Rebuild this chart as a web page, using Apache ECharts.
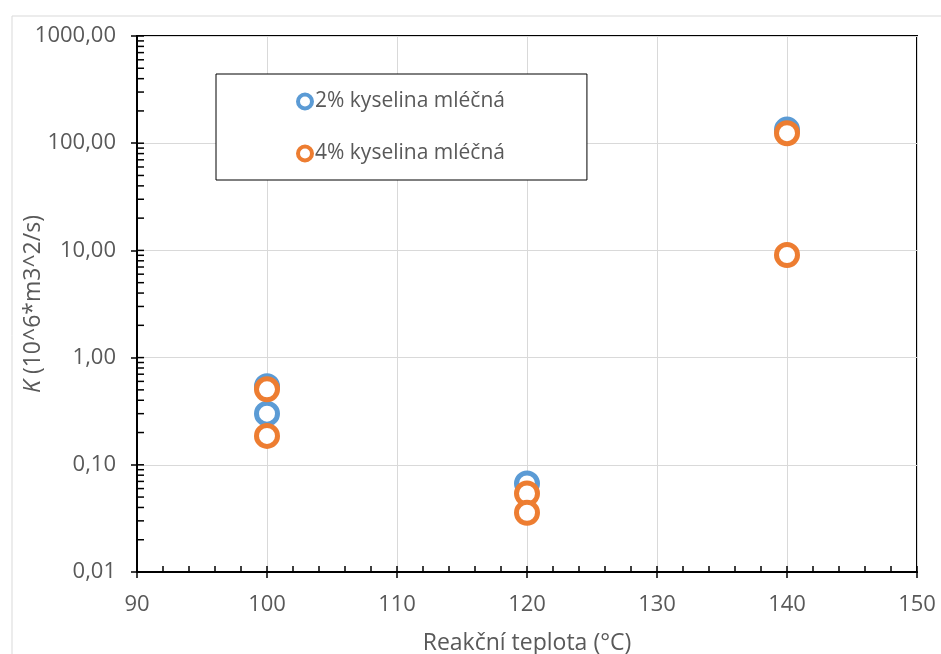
<!DOCTYPE html>
<html><head><meta charset="utf-8">
<script src="https://cdn.jsdelivr.net/npm/echarts@6/dist/echarts.min.js"></script>
<style>html,body{margin:0;padding:0;background:#fff}#c{width:941px;height:654px}</style>
</head><body><div id="c"></div>
<script>
const seriesNames = ['2% kyselina mléčná', '4% kyselina mléčná'];
const temps2 = [100, 100, 120, 140];
const values2 = [0.54, 0.30, 0.067, 134];
const temps4 = [100, 100, 120, 120, 140, 140];
const values4 = [0.506, 0.186, 0.054, 0.0357, 124, 9.06];
const yTickValues = [0.01, 0.1, 1, 10, 100, 1000];
const xTickValues = [90, 100, 110, 120, 130, 140, 150];

const colors = ['#5B9BD5', '#ED7D31'];
const textColor = '#595959';
const font = 'Open Sans';

// inside tick marks for log axis (1..9 per decade)
const logTicks = [];
for (let k = -2; k <= 2; k++) for (let m = 1; m <= 9; m++) logTicks.push([xTickValues[0], m * Math.pow(10, k)]);
logTicks.push([xTickValues[0], 1000]);

const chart = echarts.init(document.getElementById('c'), null, {renderer: 'canvas'});
chart.setOption({
  animation: false,
  backgroundColor: '#fff',
  textStyle: {fontFamily: font},
  graphic: [{type: 'rect', left: 9.5, top: 13.5, silent: true, z: -10,
    shape: {width: 1000, height: 800}, style: {fill: 'none', stroke: '#d9d9d9', lineWidth: 1}}],
  grid: {left: 137, top: 36, width: 780, height: 536, show: true, borderColor: '#000', borderWidth: 2,
    backgroundColor: 'transparent', containLabel: false, outerBoundsMode: 'none'},
  legend: {
    left: 216, top: 74, orient: 'vertical',
    data: seriesNames,
    backgroundColor: '#fff', borderColor: '#000', borderWidth: 1,
    padding: [17, 82, 16, 80],
    itemGap: 31, itemWidth: 14, itemHeight: 14,
    itemStyle: {borderWidth: 4, opacity: 1},
    textStyle: {fontSize: 21, color: textColor, fontFamily: font, padding: [0, 0, 0, -2]}
  },
  xAxis: [{
    type: 'value', min: xTickValues[0], max: xTickValues[xTickValues.length - 1], interval: 10,
    name: 'Reakční teplota (°C)', nameLocation: 'middle', nameGap: 60, nameMoveOverlap: false,
    nameTextStyle: {fontSize: 23, color: textColor, fontFamily: font},
    axisLine: {show: true, lineStyle: {color: '#000', width: 2}},
    axisTick: {show: true, inside: true, length: 6, lineStyle: {color: '#000', width: 1.5}},
    minorTick: {show: true, splitNumber: 5, length: 6, lineStyle: {color: '#000', width: 1.5}},
    axisLabel: {fontSize: 22, color: textColor, margin: 22, fontFamily: font},
    splitLine: {show: true, lineStyle: {color: '#d9d9d9', width: 1}}
  }, {
    type: 'value', min: xTickValues[0], max: xTickValues[xTickValues.length - 1], interval: 10,
    position: 'bottom', offset: 0,
    axisLine: {show: false},
    axisTick: {show: true, inside: false, length: 6, lineStyle: {color: '#000', width: 1.5}},
    axisLabel: {show: false}, splitLine: {show: false}
  }],
  yAxis: {
    type: 'log', logBase: 10, min: yTickValues[0], max: yTickValues[yTickValues.length - 1], splitNumber: 5,
    name: '{i|K} (10^6*m3^2/s)', nameLocation: 'middle', nameGap: 92, nameMoveOverlap: false,
    nameTextStyle: {fontSize: 23, color: textColor, fontFamily: font, rich: {i: {fontStyle: 'italic', fontSize: 23, color: textColor, fontFamily: font}}},
    axisLine: {show: true, lineStyle: {color: '#000', width: 2}},
    axisTick: {show: true, inside: false, length: 6, lineStyle: {color: '#000', width: 1.5}},
    axisLabel: {fontSize: 22, color: textColor, margin: 21, fontFamily: font,
      formatter: v => Number(v).toFixed(2).replace('.', ',')},
    splitLine: {show: true, lineStyle: {color: '#d9d9d9', width: 1}}
  },
  series: [{
    type: 'custom', silent: true, z: 5, clip: false,
    data: logTicks,
    renderItem: (params, api) => {
      const p = api.coord([api.value(0), api.value(1)]);
      return {type: 'line', shape: {x1: p[0], y1: p[1], x2: p[0] + 7, y2: p[1]},
        style: {stroke: '#000', lineWidth: 1.5}};
    }
  }, {
    name: seriesNames[0], type: 'scatter', z: 3,
    data: temps2.map((t, i) => [t, values2[i]]),
    symbol: 'circle', symbolSize: 21,
    itemStyle: {color: '#fff', borderColor: colors[0], borderWidth: 5, opacity: 1}
  }, {
    name: seriesNames[1], type: 'scatter', z: 4,
    data: temps4.map((t, i) => [t, values4[i]]),
    symbol: 'circle', symbolSize: 21,
    itemStyle: {color: '#fff', borderColor: colors[1], borderWidth: 5, opacity: 1}
  }]
});
</script></body></html>
